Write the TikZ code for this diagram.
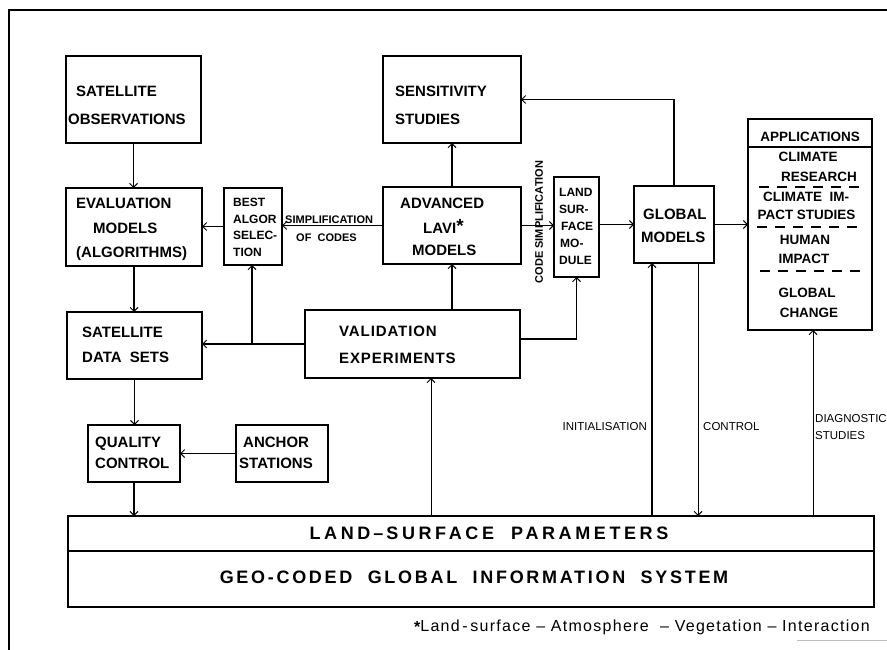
\documentclass[tikz,border=0pt]{standalone}
\usepackage{fontspec}
\setmainfont{Liberation Sans}
\newfontfamily\bxf{Liberation Sans Bold}
\newfontfamily\valf[LetterSpace=6]{Liberation Sans Bold}
\newfontfamily\widef[LetterSpace=20]{Liberation Sans Bold}
\newfontfamily\geof[LetterSpace=15]{Liberation Sans Bold}
\newfontfamily\fnf[LetterSpace=8]{Liberation Sans}
\usetikzlibrary{arrows.meta,calc}
\newcommand\mkbox[5]{\node[box, minimum width={#4-#2}, minimum height={#5-#3}] (#1) at ({(#2+#4)/2},{(#3+#5)/2}) {};}
\begin{document}
\begin{tikzpicture}[x=1pt,y=-1pt,
  box/.style={draw, line width=1.5pt, rectangle, inner sep=0pt, outer sep=0pt},
  bt/.style={inner sep=0pt, anchor=base west, font=\bxf\fontsize{15}{15}\selectfont},
  st/.style={inner sep=0pt, anchor=base west, font=\bxf\fontsize{12}{12}\selectfont},
  apt/.style={inner sep=0pt, anchor=base, font=\bxf\fontsize{13.5}{13.5}\selectfont},
  lt/.style={inner sep=0pt, font=\fontsize{11.5}{11.5}\selectfont},
  lbt/.style={inner sep=0pt, font=\bxf\fontsize{11}{11}\selectfont},
  arr/.style={line width=1.2pt, -{Straight Barb[length=4pt,width=8pt,line width=1pt]}},
  thinarr/.style={line width=0.9pt, -{Straight Barb[length=4pt,width=8pt,line width=0.9pt]}},
  dsh/.style={line width=1.4pt, dash pattern=on 10pt off 8pt}]
\useasboundingbox (0,0) rectangle (887,650);
% frame
\draw[line width=1.3pt] (9,650) -- (9,10) -- (887,10);
\draw[gray!50, line width=1pt] (797,640) -- (887,640);

% boxes
\mkbox{satobs}{66}{56}{201}{143}
\mkbox{eval}{66}{188}{202}{266}
\mkbox{best}{224}{188}{282}{265}
\mkbox{sens}{383}{56}{521}{143}
\mkbox{lavi}{383}{187}{521}{264}
\mkbox{lsm}{554}{177}{599}{277}
\mkbox{glob}{634}{186}{714}{263}
\mkbox{appH}{748}{119}{872}{147}
\mkbox{appB}{748}{147}{872}{330}
\mkbox{sds}{67}{312}{202}{379}
\mkbox{val}{305}{310}{520}{378}
\mkbox{qc}{88}{425}{180}{482}
\mkbox{anch}{236}{425}{328}{482}
\mkbox{lsp}{68}{516}{874}{551}
\mkbox{gis}{68}{551}{874}{607}

% box texts
\node[bt] (t1) at (76,96.1) {SATELLITE};
\node[bt] (t2) at (68,124.7) {OBSERVATIONS};
\node[bt] (t3) at (76,208.4) {EVALUATION};
\node[bt] (t4) at (93,233.4) {MODELS};
\node[bt] (t5) at (76,257.4) {(ALGORITHMS)};
\node[bt] (t6) at (395,96.4) {SENSITIVITY};
\node[bt] (t7) at (395,124.4) {STUDIES};
\node[bt] (t8) at (400,208.4) {ADVANCED};
\node[bt] (t9) at (423,233.4) {LAVI\raisebox{0.5pt}{\fontsize{19}{19}\selectfont*}};
\node[bt] (t10) at (412,255.4) {MODELS};
\node[bt] (t11) at (643,219.4) {GLOBAL};
\node[bt] (t12) at (641,242.4) {MODELS};
\node[bt] (t13) at (82,337.4) {SATELLITE};
\node[bt] (t14) at (82,362.4) {DATA\ \ SETS};
\node[bt] (t15) at (95,447.4) {QUALITY};
\node[bt] (t16) at (95,468.4) {CONTROL};
\node[bt] (t17) at (243,447.4) {ANCHOR};
\node[bt] (t18) at (239,468.4) {STATIONS};
\node[bt, font=\valf\fontsize{15}{15}\selectfont] (t19) at (339,336.4) {VALIDATION};
\node[bt, font=\valf\fontsize{15}{15}\selectfont] (t20) at (339,363.4) {EXPERIMENTS};

% best algor
\node[st] (b1) at (233,206.3) {BEST};
\node[st] (b2) at (233,223) {ALGOR};
\node[st] (b3) at (233,239.6) {SELEC-};
\node[st] (b4) at (233,256.3) {TION};
% land surface module
\node[st] (m1) at (559,196.5) {LAND};
\node[st] (m2) at (559,213.5) {SUR-};
\node[st] (m3) at (561,230.5) {FACE};
\node[st] (m4) at (560,247.5) {MO-};
\node[st] (m5) at (559,264.5) {DULE};

% applications
\node[apt] (a0) at (810,142) {APPLICATIONS};
\node[apt] (a1) at (808,162) {CLIMATE};
\node[apt] (a2) at (819,182) {RESEARCH};
\node[apt] (a3) at (806,202) {CLIMATE\ \ IM-};
\node[apt] (a4) at (806.5,219) {PACT STUDIES};
\node[apt] (a5) at (805,244) {HUMAN};
\node[apt] (a6) at (804,263) {IMPACT};
\node[apt] (a7) at (807,297) {GLOBAL};
\node[apt] (a8) at (809,317) {CHANGE};
\draw[dsh] (759,187) -- (861,187);
\draw[dsh] (757,227) -- (861,227);
\draw[dsh] (760,271) -- (862,271);

% bottom
\node[inner sep=0pt, font=\widef\fontsize{18}{18}\selectfont] (lspt) at (489,533) {LAND\,–\,SURFACE\ \ PARAMETERS};
\node[inner sep=0pt, font=\geof\fontsize{18}{18}\selectfont] (gist) at (474,577) {GEO-CODED\ \ GLOBAL\ \ INFORMATION\ \ SYSTEM};
\node[inner sep=0pt, anchor=base east, font=\fnf\fontsize{16}{16}\selectfont] (fn) at (870,631.4) {\raisebox{-1pt}{\bxf *}Land\,-\,surface\ –\ Atmosphere\ \ –\ Vegetation\ –\ Interaction};

% labels
\node[lbt, anchor=base west] (s1) at (285,223.1) {SIMPLIFICATION};
\node[lbt, anchor=base west] (s2) at (296,241.1) {OF\ \ CODES};
\node[lbt, rotate=90] (s3) at (539,222) {CODE SIMPLIFICATION};
\node[lt, anchor=base east] (l1) at (647,430) {INITIALISATION};
\node[lt, anchor=base west] (l2) at (703,430) {CONTROL};
\node[lt, anchor=base west] (l3) at (815,422) {DIAGNOSTIC};
\node[lt, anchor=base west] (l4) at (815,439) {STUDIES};

% connectors
\draw[arr] (satobs.south) -- (satobs.south |- eval.north);
\draw[arr] (eval.south) -- (eval.south |- sds.north);
\draw[arr] (sds.south) -- (sds.south |- qc.north);
\draw[arr] (qc.south) -- (qc.south |- lsp.north);
\draw[arr] (anch.west) -- (qc.east);
\draw[arr] (best.west) -- (best.west -| eval.east);
\draw[arr] (lavi.west) -- (lavi.west -| best.east);
\draw[arr] (val.west) -- (val.west -| sds.east);
\coordinate (br) at (252,0 |- val.west);
\draw[arr] (br) -- (br |- best.south);
\draw[arr] (lavi.south |- val.north) -- (lavi.south);
\draw[arr] (lavi.north) -- (lavi.north |- sens.south);
\draw[arr] (lavi.east) -- (lavi.east -| lsm.west);
\draw[arr] (glob.west -| lsm.east) -- (glob.west);
\draw[arr] (glob.east) -- (glob.east -| appB.west);
\draw[arr] (glob.north) |- (sens.east);
\draw[arr] ([yshift=5pt]val.east) -| (lsm.south);
\coordinate (ini) at (652,0 |- lsp.north);
\draw[arr] (ini) -- (ini |- glob.south);
\coordinate (ctl) at (698,0 |- glob.south);
\draw[thinarr] (ctl) -- (ctl |- lsp.north);
\coordinate (dia) at (813,0 |- lsp.north);
\draw[thinarr] (dia) -- (dia |- appB.south);
\coordinate (vl) at (431,0 |- val.south);
\draw[thinarr, {Straight Barb[length=4pt,width=8pt,line width=0.9pt]}-] (vl) -- (vl |- lsp.north);
\end{tikzpicture}
\end{document}
